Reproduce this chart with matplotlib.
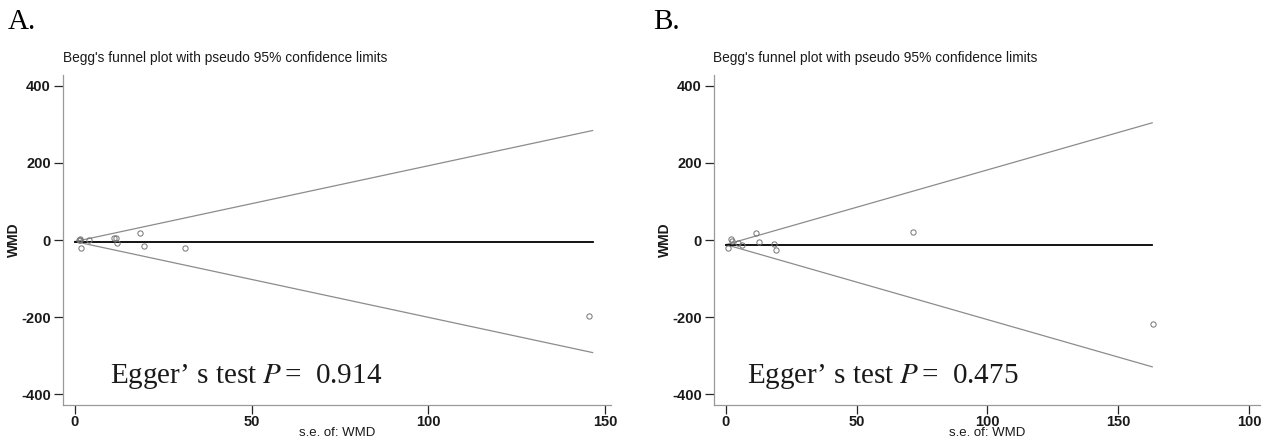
import matplotlib
matplotlib.use("Agg")
import matplotlib.pyplot as plt

# ---------------------------------------------------------------------------
#  Data
# ---------------------------------------------------------------------------
se_a = [1.2, 1.4, 1.5, 1.6, 4.0, 11.0, 11.6, 11.9, 18.4, 19.6, 31.2, 145.6]
wmd_a = [0.0, 1.5, -1.0, -21.0, 0.0, 6.0, 6.0, -8.5, 17.0, -14.5, -20.5, -197.0]
pooled_a = -4.0
se_line_a = [0.0, 146.5]
upper_a = [-4.0, 284.0]
lower_a = [-4.0, -292.0]
p_a = "0.914"

se_b = [0.9, 2.0, 2.3, 4.8, 6.1, 11.5, 12.6, 18.4, 19.2, 71.4, 163.3]
wmd_b = [-20.0, 1.5, -2.5, -7.0, -14.0, 17.0, -6.0, -11.0, -27.0, 20.0, -219.0]
pooled_b = -12.0
se_line_b = [0.0, 163.0]
upper_b = [-12.0, 304.0]
lower_b = [-12.0, -329.0]
p_b = "0.475"

xticks_a = [0, 50, 100, 150]
xticklabels_a = ["0", "50", "100", "150"]
xticks_b = [0, 50, 100, 150, 200]
xticklabels_b = ["0", "50", "100", "150", "100"]   # last label as printed
yticks = [-400, -200, 0, 200, 400]

plt.rcParams["font.family"] = ["Liberation Sans", "DejaVu Sans"]
plt.rcParams["mathtext.fontset"] = "stix"

W, H = 1261, 440
fig = plt.figure(figsize=(W / 100, H / 100), dpi=100)


def px_axes(x0, x1, ytop, ybot):
    return fig.add_axes([x0 / W, 1 - ybot / H, (x1 - x0) / W, (ybot - ytop) / H])


def funnel(ax, se, wmd, se_line, pooled, upper, lower, xticks, xlabels, xlim, p, tx):
    ax.plot(se_line, upper, color="0.55", lw=0.9)
    ax.plot(se_line, lower, color="0.55", lw=0.9)
    ax.plot(se_line, [pooled, pooled], color="black", lw=1.3)
    ax.plot(se, wmd, ls="none", marker="o", ms=3.8, mfc="none", mec="0.45", mew=0.7)
    ax.set_xlim(*xlim)
    ax.set_ylim(-428, 428)
    ax.set_xticks(xticks)
    ax.set_xticklabels(xlabels)
    ax.set_yticks(yticks)
    ax.set_yticklabels([str(v) for v in yticks])
    for s in ["top", "right"]:
        ax.spines[s].set_visible(False)
    for s in ["left", "bottom"]:
        ax.spines[s].set_color("0.6")
        ax.spines[s].set_linewidth(0.9)
    ax.tick_params(axis="y", length=6.5, width=0.9, color="0.15", pad=2,
                   labelsize=10.5, labelcolor="0.1")
    ax.tick_params(axis="x", length=6.5, width=0.9, color="0.15", pad=1,
                   labelsize=10.5, labelcolor="0.1")
    for lab in ax.get_xticklabels() + ax.get_yticklabels():
        lab.set_fontweight("bold")
    ax.text(tx, -371, r"Egger’ s test $P\,$=  " + p, family="Liberation Serif",
            fontsize=21, color="0.1", ha="left", va="baseline")


axA = px_axes(62.6, 611, 75, 405)
funnel(axA, se_a, wmd_a, se_line_a, pooled_a, upper_a, lower_a,
       xticks_a, xticklabels_a, (-3.5, 151.7), p_a, 9.9)
axB = px_axes(713.6, 1261, 75, 405)
funnel(axB, se_b, wmd_b, se_line_b, pooled_b, upper_b, lower_b,
       xticks_b, xticklabels_b, (-4.7, 204.6), p_b, 8.1)

# panel letters, titles and axis labels
for x_let, x_tit, x_wmd, x_se in [(8, 63, 14, 337), (653, 713, 665, 987)]:
    fig.text(x_let / W, 1 - 22 / H, "A." if x_let < 600 else "B.",
             family="Liberation Serif", fontsize=21, ha="left", va="center")
    fig.text(x_tit / W, 1 - 58 / H, "Begg's funnel plot with pseudo 95% confidence limits",
             fontsize=9.9, ha="left", va="center", color="0.1")
    fig.text(x_wmd / W, 1 - 240 / H, "WMD", fontsize=10, fontweight="bold",
             rotation=90, ha="center", va="center", color="0.1")
    fig.text(x_se / W, 1 - 433 / H, "s.e. of: WMD", fontsize=9.5,
             ha="center", va="center", color="0.1")

fig.savefig("out.png", dpi=100)
